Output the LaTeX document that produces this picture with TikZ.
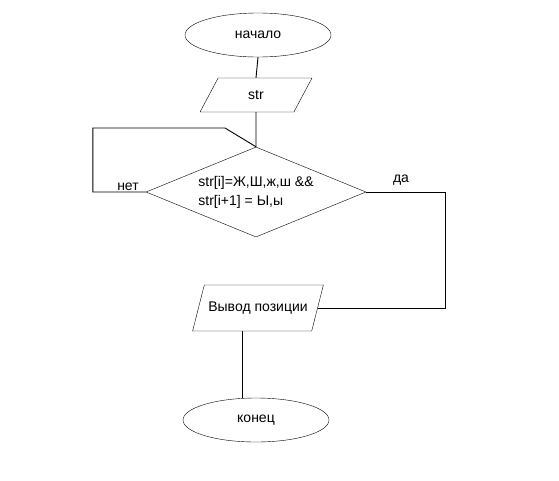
\documentclass[tikz,border=0pt]{standalone}
\usepackage{fontspec}
\setmainfont{Liberation Sans}
\usetikzlibrary{shapes.geometric}
\begin{document}
\begin{tikzpicture}[
        x=1pt, y=-1pt,
        every node/.style={font=\fontsize{14}{19}\selectfont},
        terminal/.style={
            ellipse,
            draw,
            minimum width=146pt,
            minimum height=44pt,
            inner sep=0pt
        },
        io/.style={
            trapezium,
            draw,
            trapezium stretches=true,
            inner sep=0pt
        },
        decision/.style={
            diamond,
            draw,
            aspect=2.44,
            minimum width=220pt,
            minimum height=90pt,
            inner sep=0pt,
            align=left
        },
        line/.style={line width=0.9pt}
    ]
        \useasboundingbox (0,0) rectangle (559,480);

        \node[terminal] (start) at (258,35) {начало};
        \node[io, trapezium left angle=68, trapezium right angle=112,
              minimum width=112pt, minimum height=34pt] (str) at (256,95) {str};
        \node[decision] (cond) at (256,192) {str[i]=Ж,Ш,ж,ш \&\&\\str[i+1] = Ы,ы};
        \node[io, trapezium left angle=49, trapezium right angle=131,
              minimum width=131pt, minimum height=46pt] (out) at (258,308) {Вывод позиции};
        \node[terminal] (end) at (256,420) {конец};

        \node (no) at (128,187) {нет};
        \node (yes) at (401,180) {да};

        \coordinate (loopturn) at (225,128);

        \draw[line] (start.south) -- (str.north);
        \draw[line] (str.south) -- (cond.north);
        \draw[line] (cond.west) -- ++(-53,0) |- (loopturn) -- (cond.north);
        \draw[line] (cond.east) -- ++(79,0) |- (out.east);
        \draw[line] ([xshift=-16pt]out.south) -- ([xshift=-16pt]out.south |- end.north);

    \end{tikzpicture}
\end{document}
